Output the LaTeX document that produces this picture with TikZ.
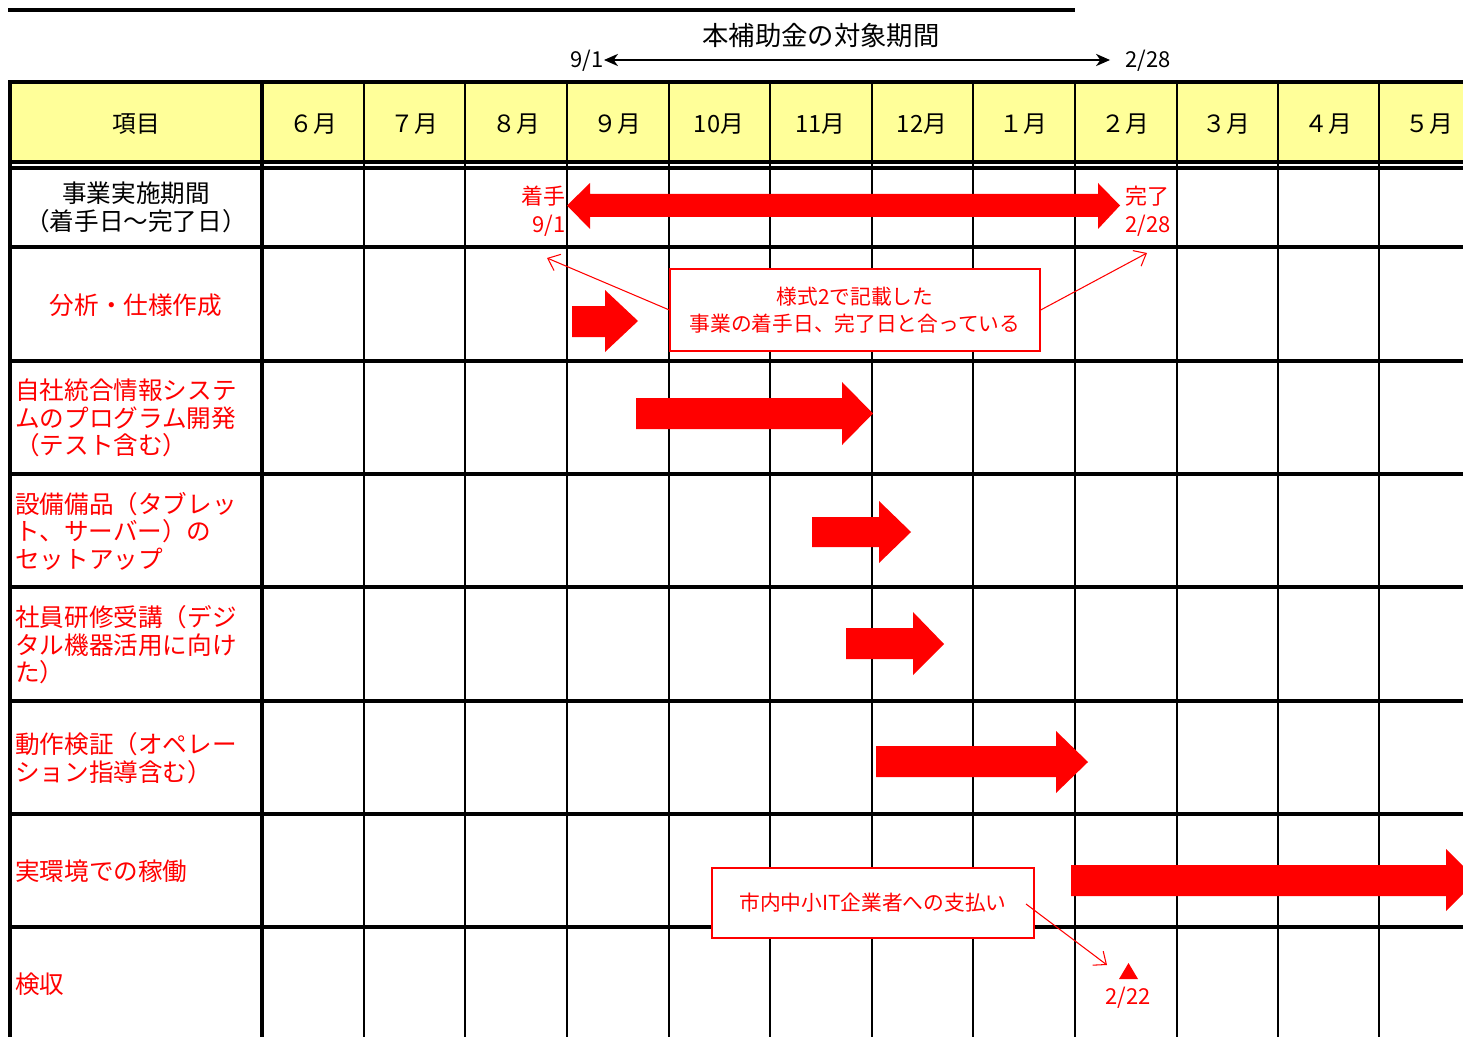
\documentclass[tikz,border=0pt]{standalone}
\usepackage{fontspec}
\setmainfont{Noto Sans CJK JP}
\usetikzlibrary{arrows.meta}
\definecolor{hdr}{HTML}{FFFF99}
\definecolor{rd}{HTML}{FF0000}
\begin{document}
\begin{tikzpicture}[x=0.02cm,y=-0.02cm,
  heavy/.style={line width=1.8pt},
  frame/.style={line width=2.3pt},
  light/.style={line width=0.75pt},
  hd/.style={font=\fontsize{13.5}{16}\selectfont, inner sep=0pt},
  lbl/.style={font=\fontsize{14}{15.6}\selectfont, text=rd, align=left, anchor=west, inner sep=0pt},
  datelbl/.style={font=\fontsize{12.5}{15.9}\selectfont, inner sep=0pt},
  bar/.style={fill=rd},
  callout/.style={draw=rd, line width=0.8pt, fill=white, text=rd, font=\fontsize{11.8}{15.3}\selectfont, align=center},
  ptr/.style={draw=rd, line width=0.6pt, -{Straight Barb[length=6pt,width=10pt]}}
]
\useasboundingbox (0,0) rectangle (1463,1037);
\clip (0,0) rectangle (1463,1037);

% header fill
\fill[hdr] (10,82) rectangle (1481,162);
% thin verticals
\foreach \x in {364,465,567,669,770,872,973,1075,1177,1278,1379}
  \draw[light] (\x,82) -- (\x,1045);
% thick lines
\draw[heavy] (8,10) -- (1075,10);
\draw[frame] (8,82) -- (1481,82);
\foreach \y in {162,168,247,361,474,587,701,814,927}
  \draw[heavy] (10,\y) -- (1481,\y);
\draw[frame] (10,81) -- (10,1045);
\draw[heavy] (262,82) -- (262,1045);

% title and period
\node[font=\fontsize{15}{18}\selectfont, inner sep=0pt] (title) at (821,35) {本補助金の対象期間};
\node[datelbl] (t91) at (587,61) {9/1};
\node[datelbl] (t228) at (1148,61) {2/28};
\coordinate (pa) at (604,60);
\coordinate (pb) at (1110,60);
\draw[line width=0.7pt, {Stealth[length=8pt,width=7pt,inset=2.5pt]}-{Stealth[length=8pt,width=7pt,inset=2.5pt]}] (pa) -- (pb);

% header
\node[hd] (h0) at (136,124) {項目};
\foreach \m [count=\i] in {６月,７月,８月,９月,10月,11月,12月,１月,２月,３月,４月,５月}
  \node[hd] (m\i) at ({313+(\i-1)*101.5},124) {\m};

% row 1
\node[font=\fontsize{14}{15.9}\selectfont, align=center, inner sep=0pt] (r1) at (136,207) {事業実施期間\\（着手日～完了日）};
\node[datelbl, text=rd, align=right, anchor=east] (st) at (566,211) {着手\\9/1};
\node[datelbl, text=rd, align=left, anchor=west] (en) at (1125,211) {完了\\2/28};
\fill[bar] (567,205.5) -- (590,183) -- (590,194) -- (1098,194) -- (1098,183) -- (1120,205.5) -- (1098,229) -- (1098,217) -- (590,217) -- (590,229) -- cycle;

% row labels
\node[font=\fontsize{14}{15.6}\selectfont, text=rd, inner sep=0pt] (r2) at (136,305) {分析・仕様作成};
\node[lbl] (r3) at (15,418) {自社統合情報システ\\ムのプログラム開発\\（テスト含む）};
\node[lbl] (r4) at (15,531) {設備備品（タブレッ\\ト、サーバー）の\\セットアップ};
\node[lbl] (r5) at (15,645) {社員研修受講（デジ\\タル機器活用に向け\\た）};
\node[lbl] (r6) at (15,758) {動作検証（オペレー\\ション指導含む）};
\node[lbl] (r7) at (15,871) {実環境での稼働};
\node[lbl] (r8) at (15,984) {検収};

% bars
\fill[bar] (572,306) -- (605,306) -- (605,290) -- (638,321) -- (605,352) -- (605,337) -- (572,337) -- cycle;
\fill[bar] (636,398) -- (842,398) -- (842,382) -- (873,413.5) -- (842,445) -- (842,429) -- (636,429) -- cycle;
\fill[bar] (812,517) -- (879,517) -- (879,501) -- (911,532) -- (879,563) -- (879,547) -- (812,547) -- cycle;
\fill[bar] (846,628) -- (913,628) -- (913,612) -- (944,644) -- (913,675) -- (913,659) -- (846,659) -- cycle;
\fill[bar] (876,746) -- (1056,746) -- (1056,731) -- (1088,762) -- (1056,793) -- (1056,777) -- (876,777) -- cycle;
\fill[bar] (1071,865) -- (1446,865) -- (1446,849) -- (1477,880) -- (1446,911) -- (1446,896) -- (1071,896) -- cycle;

% callout 1
\node[callout, minimum width=7.4cm, minimum height=1.64cm] (c1) at (855,310) {様式2で記載した\\事業の着手日、完了日と合っている};
\coordinate (t1) at (547,258);
\coordinate (t2) at (1147,253);
\draw[ptr] (c1.west) -- (t1);
\draw[ptr] (c1.east) -- (t2);

% callout 2
\node[callout, minimum width=6.44cm, minimum height=1.4cm] (c2) at (873,903) {市内中小IT企業者への支払い};
\coordinate (p2s) at (1026,904);
\coordinate (p2e) at (1107,965);
\draw[ptr] (p2s) -- (p2e);

% payment mark
\fill[rd] (1119,979) -- (1138,979) -- (1128.5,963) -- cycle;
\node[datelbl, text=rd] (d222) at (1128,998) {2/22};
\end{tikzpicture}
\end{document}
